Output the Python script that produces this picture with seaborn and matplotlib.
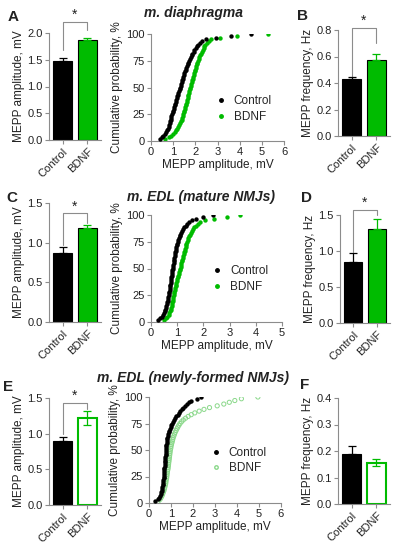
"""MEPP amplitude / frequency panels with cumulative distributions (Control vs BDNF)."""

import numpy as np
import pandas as pd
import matplotlib
matplotlib.use('Agg')
import matplotlib.pyplot as plt
from matplotlib.lines import Line2D
import seaborn as sns

# ---- data ----
groups = ['Control', 'BDNF']

amp_diaph = [1.47, 1.86]
amp_diaph_err = [0.06, 0.04]
freq_diaph = [0.43, 0.57]
freq_diaph_err = [0.015, 0.05]

amp_mature = [0.87, 1.19]
amp_mature_err = [0.07, 0.03]
freq_mature = [0.85, 1.30]
freq_mature_err = [0.12, 0.15]

amp_new = [0.90, 1.22]
amp_new_err = [0.06, 0.10]
freq_new = [0.19, 0.155]
freq_new_err = [0.03, 0.013]

# MEPP amplitudes (mV), sorted, one sample per group
diaph_ctrl = [0.42, 0.50, 0.56, 0.62, 0.67, 0.72, 0.76, 0.79, 0.82, 0.84,
              0.86, 0.88, 0.90, 0.92, 0.94, 0.97, 0.99, 1.02, 1.04, 1.07,
              1.09, 1.12, 1.14, 1.17, 1.19, 1.22, 1.24, 1.27, 1.29, 1.31,
              1.34, 1.36, 1.39, 1.41, 1.44, 1.46, 1.49, 1.51, 1.54, 1.57,
              1.60, 1.63, 1.66, 1.68, 1.71, 1.75, 1.79, 1.83, 1.87, 1.92,
              1.96, 2.01, 2.06, 2.12, 2.20, 2.32, 2.50, 2.95, 3.60, 4.50]
diaph_bdnf = [0.62, 0.80, 0.92, 1.00, 1.07, 1.14, 1.19, 1.24, 1.28, 1.32,
              1.35, 1.38, 1.41, 1.44, 1.46, 1.49, 1.51, 1.53, 1.55, 1.57,
              1.59, 1.61, 1.63, 1.65, 1.67, 1.69, 1.71, 1.73, 1.75, 1.78,
              1.80, 1.82, 1.84, 1.86, 1.88, 1.90, 1.92, 1.94, 1.97, 1.99,
              2.01, 2.04, 2.06, 2.09, 2.12, 2.15, 2.18, 2.21, 2.25, 2.29,
              2.33, 2.37, 2.41, 2.45, 2.52, 2.60, 2.72, 3.10, 3.90, 5.30]
mature_ctrl = [0.28, 0.36, 0.42, 0.46, 0.50, 0.53, 0.55, 0.57, 0.59, 0.61,
               0.62, 0.64, 0.65, 0.66, 0.67, 0.69, 0.70, 0.71, 0.72, 0.73,
               0.74, 0.75, 0.76, 0.77, 0.78, 0.79, 0.80, 0.81, 0.82, 0.83,
               0.84, 0.85, 0.86, 0.87, 0.88, 0.89, 0.90, 0.91, 0.93, 0.94,
               0.95, 0.97, 0.98, 1.00, 1.02, 1.04, 1.06, 1.09, 1.12, 1.15,
               1.18, 1.22, 1.27, 1.32, 1.38, 1.46, 1.56, 1.70, 2.00, 2.35]
mature_bdnf = [0.48, 0.56, 0.62, 0.67, 0.70, 0.73, 0.75, 0.77, 0.79, 0.80,
               0.81, 0.83, 0.84, 0.85, 0.86, 0.88, 0.89, 0.91, 0.92, 0.94,
               0.95, 0.97, 0.98, 1.00, 1.02, 1.03, 1.05, 1.07, 1.09, 1.11,
               1.13, 1.14, 1.16, 1.18, 1.20, 1.21, 1.23, 1.25, 1.27, 1.28,
               1.30, 1.32, 1.34, 1.35, 1.37, 1.40, 1.43, 1.46, 1.49, 1.52,
               1.56, 1.60, 1.65, 1.70, 1.78, 1.88, 2.05, 2.40, 2.90, 3.40]
new_ctrl = [0.28, 0.40, 0.47, 0.51, 0.54, 0.56, 0.58, 0.60, 0.61, 0.62,
            0.63, 0.64, 0.65, 0.66, 0.66, 0.67, 0.68, 0.69, 0.69, 0.70,
            0.71, 0.71, 0.72, 0.73, 0.73, 0.74, 0.75, 0.75, 0.76, 0.77,
            0.78, 0.78, 0.79, 0.80, 0.81, 0.82, 0.83, 0.85, 0.87, 0.89,
            0.92, 0.95, 0.98, 1.01, 1.05, 1.09, 1.14, 1.19, 1.24, 1.30,
            1.36, 1.42, 1.49, 1.56, 1.64, 1.72, 1.82, 1.92, 2.20, 2.38]
new_bdnf = [0.42, 0.50, 0.55, 0.59, 0.62, 0.65, 0.68, 0.70, 0.72, 0.74,
            0.76, 0.77, 0.78, 0.80, 0.81, 0.82, 0.83, 0.84, 0.86, 0.87,
            0.88, 0.89, 0.90, 0.91, 0.92, 0.93, 0.94, 0.95, 0.96, 0.97,
            0.99, 1.00, 1.02, 1.04, 1.06, 1.08, 1.10, 1.13, 1.16, 1.19,
            1.23, 1.27, 1.31, 1.36, 1.41, 1.48, 1.56, 1.66, 1.78, 1.92,
            2.08, 2.28, 2.50, 2.75, 3.10, 3.40, 3.65, 3.90, 4.20, 4.95]

BLACK = '#000000'
GREEN = '#00bb00'
PALE = '#8ad88a'
AXC = '#8c8c8c'
TXT = '#222222'

sns.set_theme(style='ticks')
plt.rcParams['font.family'] = ['Liberation Sans', 'DejaVu Sans']
plt.rcParams['axes.edgecolor'] = AXC
plt.rcParams['xtick.color'] = AXC
plt.rcParams['ytick.color'] = AXC
plt.rcParams['xtick.labelcolor'] = TXT
plt.rcParams['ytick.labelcolor'] = TXT
plt.rcParams['axes.linewidth'] = 0.8

W, H = 393, 550
fig = plt.figure(figsize=(W / 100, H / 100), dpi=100)


def add_ax(x0, y_top, x1, y_bot):
    """Axes from pixel box (origin top-left)."""
    return fig.add_axes([x0 / W, 1 - y_bot / H, (x1 - x0) / W, (y_bot - y_top) / H])


def style(ax):
    sns.despine(ax=ax)
    ax.tick_params(length=3, width=0.8, labelsize=8, pad=1.5)


def bar_panel(ax, vals, errs, ylim, yticks, ylabel, fmt, open_bdnf=False):
    df = pd.DataFrame({'group': groups, 'value': vals})
    sns.barplot(data=df, x='group', y='value', hue='group', palette=[BLACK, GREEN],
                saturation=1, width=0.74, errorbar=None, legend=False, ax=ax,
                edgecolor=BLACK, linewidth=0.8)
    if open_bdnf:
        p = ax.patches[1]
        p.set_facecolor('white')
        p.set_edgecolor(GREEN)
        p.set_linewidth(1.5)
    for i, (v, e) in enumerate(zip(vals, errs)):
        col = BLACK if i == 0 else GREEN
        lower = e if (open_bdnf and i == 1) else 0
        ax.errorbar(i, v, yerr=[[lower], [e]], color=col, capsize=3, elinewidth=0.9,
                    capthick=0.9, fmt='none', zorder=5)
    ax.set_xlim(-0.55, 1.55)
    ax.set_ylim(*ylim)
    ax.set_yticks(yticks)
    ax.set_yticklabels([fmt.format(t) for t in yticks])
    ax.set_xlabel('')
    ax.set_ylabel(ylabel, fontsize=8.5, color=TXT, labelpad=2)
    style(ax)
    ax.set_xticks([0, 1])
    ax.set_xticklabels(groups, rotation=45, ha='right', rotation_mode='anchor', fontsize=8)


def bracket(ax, y, y_left, y_right):
    ax.plot([0, 0, 1, 1], [y_left, y, y, y_right], color=AXC, lw=0.8, clip_on=False)
    ax.text(0.5, y, '*', ha='center', va='bottom', fontsize=10, color=TXT, clip_on=False)


def cdf_panel(ax, ctrl, bdnf, xmax, open_bdnf=False, leg=(0.40, 0.40)):
    rows = []
    for name, sample in (('Control', ctrl), ('BDNF', bdnf)):
        s = np.sort(np.asarray(sample))
        cum = 100 * np.arange(1, len(s) + 1) / len(s)
        rows.append(pd.DataFrame({'amp': s, 'cum': cum, 'group': name}))
    df = pd.concat(rows)
    sns.scatterplot(data=df[df.group == 'Control'], x='amp', y='cum', color=BLACK,
                    s=10, linewidth=0, ax=ax, zorder=3)
    d2 = df[df.group == 'BDNF']
    if open_bdnf:
        ax.scatter(d2.amp, d2.cum, s=9, facecolors='none', edgecolors=PALE,
                   linewidths=0.7, zorder=2)
    else:
        sns.scatterplot(data=d2, x='amp', y='cum', color=GREEN, s=10, linewidth=0, ax=ax, zorder=2)
    ax.set_xlim(0, xmax)
    ax.set_ylim(0, 100)
    ax.set_xticks(range(0, xmax + 1))
    ax.set_yticks([0, 25, 50, 75, 100])
    ax.set_xlabel('MEPP amplitude, mV', fontsize=8.5, color=TXT, labelpad=1)
    ax.set_ylabel('Cumulative probability, %', fontsize=8.5, color=TXT, labelpad=2)
    style(ax)
    bd_handle = Line2D([], [], ls='none', marker='o', ms=2.5,
                       markerfacecolor='none' if open_bdnf else GREEN,
                       markeredgecolor=PALE if open_bdnf else GREEN)
    handles = [Line2D([], [], ls='none', marker='o', ms=2.5, color=BLACK), bd_handle]
    ax.legend(handles, groups, frameon=False, loc='center left', bbox_to_anchor=leg,
              fontsize=8.5, handletextpad=0.6, labelspacing=0.3, handlelength=1.0)


# ---- row 1: m. diaphragma ----
axA = add_ax(49, 33, 101, 140)
bar_panel(axA, amp_diaph, amp_diaph_err, (0, 2.0), [0, 0.5, 1.0, 1.5, 2.0],
          'MEPP amplitude, mV', '{:.1f}')
bracket(axA, 2.21, 1.68, 2.06)

axCDF1 = add_ax(151, 34, 284, 141)
cdf_panel(axCDF1, diaph_ctrl, diaph_bdnf, 6, leg=(0.40, 0.30))

axB = add_ax(338, 30, 390, 136)
bar_panel(axB, freq_diaph, freq_diaph_err, (0, 0.8), [0, 0.2, 0.4, 0.6, 0.8],
          'MEPP frequency, Hz', '{:.1f}')
bracket(axB, 0.815, 0.445, 0.70)

# ---- row 2: m. EDL mature ----
axC = add_ax(49, 203, 101, 322)
bar_panel(axC, amp_mature, amp_mature_err, (0, 1.5), [0, 0.5, 1.0, 1.5],
          'MEPP amplitude, mV', '{:.1f}')
bracket(axC, 1.37, 0.97, 1.25)

axCDF2 = add_ax(151, 215, 282, 322)
cdf_panel(axCDF2, mature_ctrl, mature_bdnf, 5, leg=(0.38, 0.40))

axD = add_ax(340, 215, 390, 323)
bar_panel(axD, freq_mature, freq_mature_err, (0, 1.5), [0, 0.5, 1.0, 1.5],
          'MEPP frequency, Hz', '{:.1f}')
bracket(axD, 1.57, 0.99, 1.50)

# ---- row 3: m. EDL newly-formed ----
axE = add_ax(49, 398, 101, 505)
bar_panel(axE, amp_new, amp_new_err, (0, 1.5), [0, 0.5, 1.0, 1.5],
          'MEPP amplitude, mV', '{:.1f}', open_bdnf=True)
bracket(axE, 1.43, 0.99, 1.35)

axCDF3 = add_ax(149, 397, 281, 503)
cdf_panel(axCDF3, new_ctrl, new_bdnf, 6, open_bdnf=True, leg=(0.38, 0.40))

axF = add_ax(338, 398, 390, 504)
bar_panel(axF, freq_new, freq_new_err, (0, 0.4), [0, 0.1, 0.2, 0.3, 0.4],
          'MEPP frequency, Hz', '{:.1f}', open_bdnf=True)

# ---- titles and panel letters ----
titles = [('m. diaphragma', 193, 13), ('m. EDL (mature NMJs)', 201, 197),
          ('m. EDL (newly-formed NMJs)', 193, 378)]
for txt, x, y in titles:
    fig.text(x / W, 1 - y / H, txt, ha='center', va='center', fontsize=10,
             fontweight='bold', fontstyle='italic', color=TXT)

letters = [('A', 13, 17), ('B', 303, 16), ('C', 12, 198), ('D', 306, 198),
           ('E', 8, 387), ('F', 305, 385)]
for txt, x, y in letters:
    fig.text(x / W, 1 - y / H, txt, ha='center', va='center', fontsize=11,
             fontweight='bold', color=TXT)

fig.savefig('out.png', dpi=100)
